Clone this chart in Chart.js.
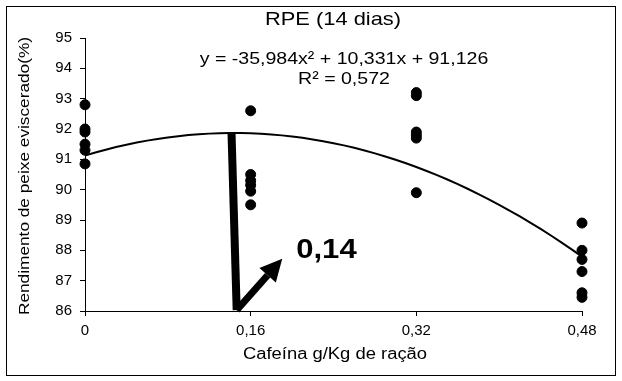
<!DOCTYPE html>
<html>
<head>
<meta charset="utf-8">
<script src="https://cdn.jsdelivr.net/npm/chart.js@4.4.1/dist/chart.umd.min.js"></script>
<style>
  html, body { margin: 0; padding: 0; background: #fff; }
  #wrap { width: 622px; height: 381px; position: relative; }
</style>
</head>
<body>
<div id="wrap"><canvas id="c" width="622" height="381"></canvas></div>
<script>
// Caffeine levels (g/Kg of feed) and observed eviscerated-fish yield (%)
const doses = [0, 0.16, 0.32, 0.48];
const yield000 = [92.8, 92.0, 91.9, 91.5, 91.3, 90.85];
const yield016 = [92.6, 90.5, 90.3, 90.15, 89.95, 89.5];
const yield032 = [93.2, 93.1, 91.9, 91.8, 91.7, 89.9];
const yield048 = [88.9, 88.0, 87.7, 87.3, 86.6, 86.45];

// Quadratic fit: y = c0 + c1*x + c2*x^2
const fitCoef = [91.126, 10.331, -35.984];
const fitR2 = '0,572';
const fitSteps = 48;

// Axis ticks
const xTicks = [0, 0.16, 0.32, 0.48];
const xTickLabels = ['0', '0,16', '0,32', '0,48'];
const yMin = 86, yMax = 95;

// Marked optimum (vertical bar from the curve's peak down to the axis, plus arrow)
const optimumLabel = '0,14';
const optimumBar = [{x: 0.1415, y: 91.87}, {x: 0.1465, y: 86.03}];
const optimumArrow = [{x: 0.1465, y: 86.03}, {x: 0.1905, y: 87.72}];
const optimumLabelPos = {x: 0.204, y: 88.0};

const groups = [yield000, yield016, yield032, yield048];
const points = [];
groups.forEach((vals, i) => vals.forEach(v => points.push({x: doses[i], y: v})));

const fitLine = [];
for (let i = 0; i <= fitSteps; i++) {
  const x = 0.48 * i / fitSteps;
  fitLine.push({x: x, y: fitCoef[0] + fitCoef[1] * x + fitCoef[2] * x * x});
}

const FONT = '"Liberation Sans", Arial, sans-serif';
const WIDEN = 1.15; // text is set slightly wide

// draws text centred/left at (x, y), stretched horizontally
function wideText(ctx, str, x, y, font, align, rotate) {
  ctx.save();
  ctx.translate(x, y);
  if (rotate) ctx.rotate(rotate);
  ctx.scale(WIDEN, 1);
  ctx.font = font;
  ctx.textAlign = align || 'center';
  ctx.textBaseline = 'middle';
  ctx.fillText(str, 0, 0);
  ctx.restore();
}

const decor = {
  id: 'decor',
  beforeDraw(chart) {
    const ctx = chart.ctx;
    ctx.save();
    ctx.fillStyle = '#fff';
    ctx.fillRect(0, 0, chart.width, chart.height);
    ctx.restore();
  },
  afterDatasetsDraw(chart) {
    const ctx = chart.ctx;
    const xs = chart.scales.x, ys = chart.scales.y;
    const px = p => ({x: xs.getPixelForValue(p.x), y: ys.getPixelForValue(p.y)});
    ctx.save();
    ctx.strokeStyle = '#000';
    ctx.fillStyle = '#000';
    // vertical bar at the optimum
    const b0 = px(optimumBar[0]), b1 = px(optimumBar[1]);
    ctx.lineWidth = 8;
    ctx.lineCap = 'butt';
    ctx.beginPath();
    ctx.moveTo(b0.x, b0.y);
    ctx.lineTo(b1.x, b1.y);
    ctx.stroke();
    // arrow pointing to the label
    const a0 = px(optimumArrow[0]), a1 = px(optimumArrow[1]);
    const ang = Math.atan2(a1.y - a0.y, a1.x - a0.x);
    const headLen = 22, headHalf = 11;
    const bx = a1.x - headLen * Math.cos(ang), by = a1.y - headLen * Math.sin(ang);
    ctx.lineWidth = 7;
    ctx.beginPath();
    ctx.moveTo(a0.x, a0.y);
    ctx.lineTo(bx, by);
    ctx.stroke();
    ctx.beginPath();
    ctx.moveTo(a1.x, a1.y);
    ctx.lineTo(bx + headHalf * Math.sin(ang), by - headHalf * Math.cos(ang));
    ctx.lineTo(bx - headHalf * Math.sin(ang), by + headHalf * Math.cos(ang));
    ctx.closePath();
    ctx.fill();
    // optimum label
    const lp = px(optimumLabelPos);
    ctx.fillStyle = '#000';
    wideText(ctx, optimumLabel, lp.x, lp.y, 'bold 27px ' + FONT, 'left');
    ctx.restore();
  },
  afterDraw(chart) {
    const ctx = chart.ctx;
    ctx.save();
    ctx.fillStyle = '#000';
    wideText(ctx, 'RPE (14 dias)', 333, 20, '19px ' + FONT);
    wideText(ctx, 'y = -35,984x² + 10,331x + 91,126', 344, 59, '17px ' + FONT);
    wideText(ctx, 'R² = ' + fitR2, 344, 79, '17px ' + FONT);
    wideText(ctx, 'Cafeína g/Kg de ração', 335, 355, '16px ' + FONT);
    wideText(ctx, 'Rendimento de peixe eviscerado(%)', 25, 176, '15px ' + FONT, 'center', -Math.PI / 2);
    ctx.restore();
    // frame around the figure
    ctx.save();
    ctx.strokeStyle = '#000';
    ctx.lineWidth = 1;
    ctx.strokeRect(6.5, 6.5, 609, 369);
    ctx.restore();
  }
};

new Chart(document.getElementById('c'), {
  type: 'scatter',
  data: {
    datasets: [
      {
        type: 'line',
        data: fitLine,
        borderColor: '#000',
        borderWidth: 2,
        pointRadius: 0,
        fill: false,
        tension: 0,
        order: 2
      },
      {
        data: points,
        backgroundColor: '#000',
        borderColor: '#000',
        pointRadius: 5,
        pointHoverRadius: 5,
        clip: false,
        order: 1
      }
    ]
  },
  options: {
    responsive: false,
    animation: false,
    events: [],
    layout: { padding: { top: 38, right: 40, left: 0, bottom: 0 } },
    plugins: { legend: { display: false }, tooltip: { enabled: false }, title: { display: false } },
    scales: {
      x: {
        type: 'linear',
        min: 0, max: 0.48,
        afterFit(s) { s.height = 70; },
        afterBuildTicks(s) { s.ticks = xTicks.map(v => ({value: v})); },
        ticks: {
          color: '#000',
          font: { family: FONT, size: 15 },
          padding: 6,
          maxRotation: 0,
          callback: (v) => xTickLabels[xTicks.indexOf(v)]
        },
        grid: { drawOnChartArea: false, drawTicks: true, tickLength: 5, color: '#000' },
        border: { display: true, color: '#000', width: 1 }
      },
      y: {
        min: yMin, max: yMax,
        afterFit(s) { s.width = 85; },
        ticks: {
          stepSize: 1,
          color: '#000',
          font: { family: FONT, size: 15 },
          padding: 8
        },
        grid: { drawOnChartArea: false, drawTicks: true, tickLength: 5, color: '#000' },
        border: { display: true, color: '#000', width: 1 }
      }
    }
  },
  plugins: [decor]
});
</script>
</body>
</html>
